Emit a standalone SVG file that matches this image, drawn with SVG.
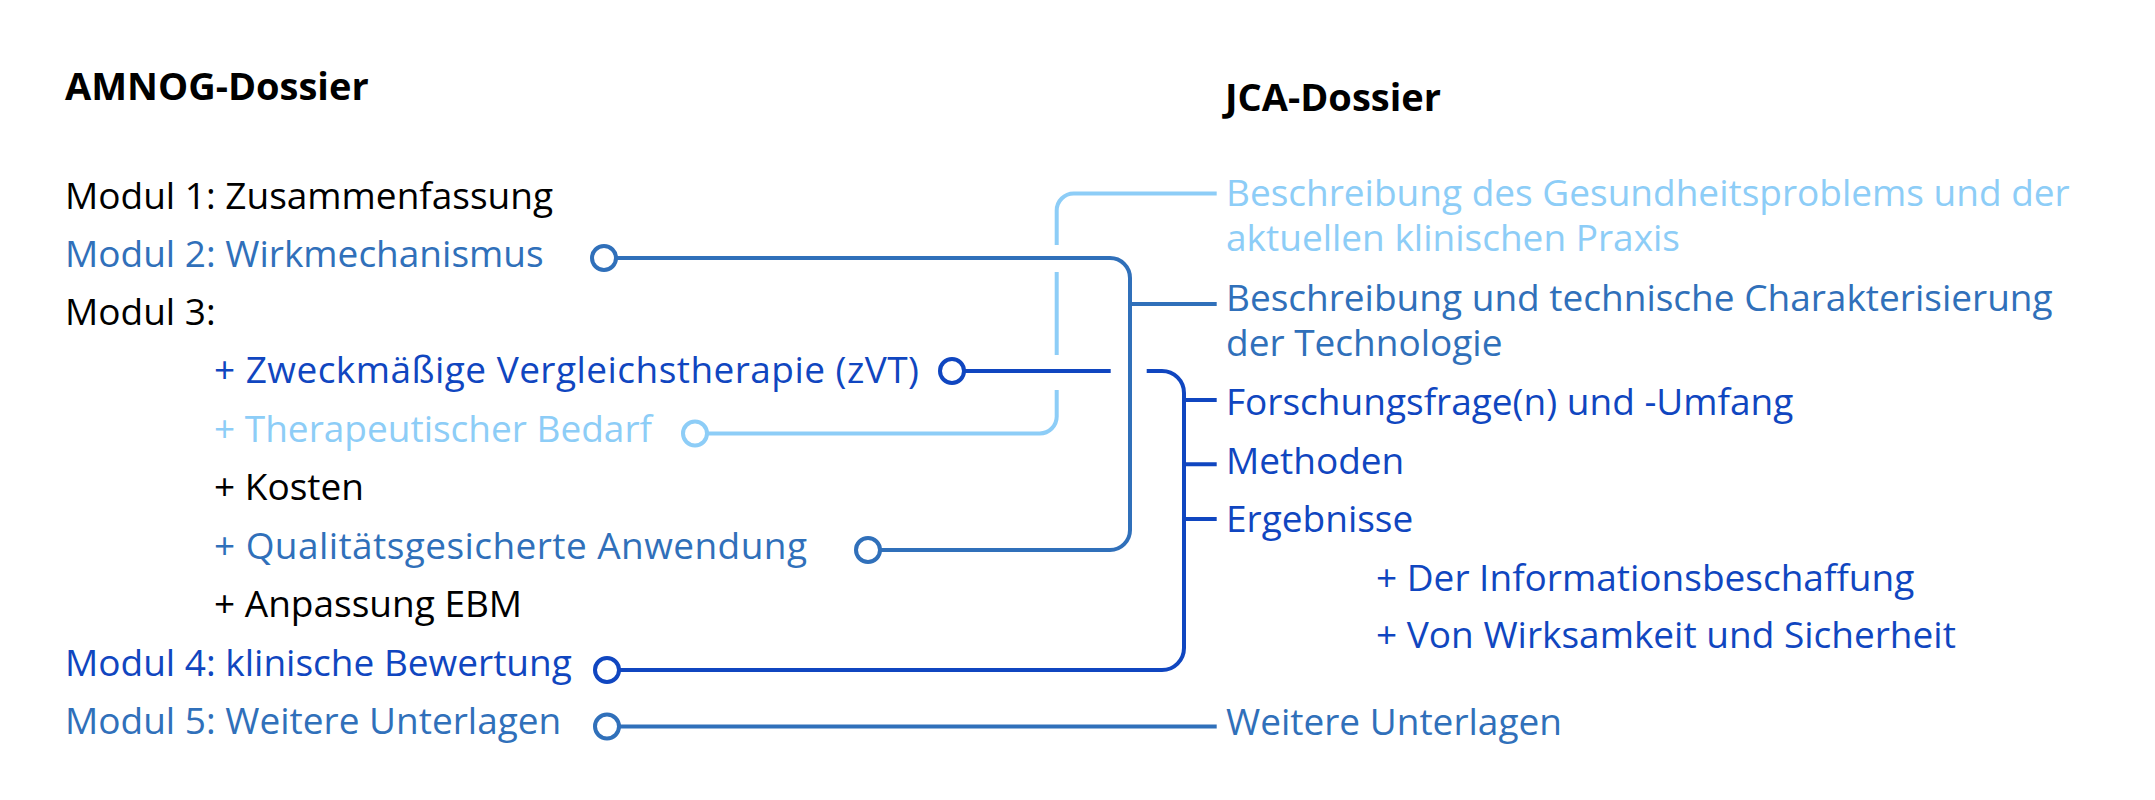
<svg xmlns="http://www.w3.org/2000/svg" width="2155" height="800" viewBox="0 0 2155 800">
  <style>
    text { font-family: "Open Sans", "Noto Sans", "Liberation Sans", sans-serif; font-size: 37px; }
    .h { font-weight: bold; font-size: 38px; fill: #000; }
    .k { fill: #000; }
    .m { fill: #3070BA; }
    .d { fill: #1046C0; }
    .l { fill: #8DCDF7; }
    .ln { fill: none; stroke-width: 4; }
    .sm { stroke: #3070BA; }
    .sd { stroke: #1046C0; }
    .sl { stroke: #8DCDF7; }
    .dot { fill: #fff; stroke-width: 4; }
  </style>
  <rect width="2155" height="800" fill="#fff"/>

  <g id="connectors">
    <!-- light blue: Therapeutischer Bedarf -> Beschreibung des Gesundheitsproblems -->
    <path class="ln sl" d="M 707 433.5 H 1039.7 A 17 17 0 0 0 1056.7 416.5 V 390"/>
    <path class="ln sl" d="M 1056.7 355 V 272"/>
    <path class="ln sl" d="M 1056.7 245 V 210.5 A 17 17 0 0 1 1073.7 193.5 H 1216.7"/>
    <circle class="dot sl" cx="695" cy="433.5" r="12"/>
    <!-- medium blue bracket: Modul 2 + Qualitaet -> Beschreibung Technologie -->
    <path class="ln sm" d="M 616 258 H 1110 A 20 20 0 0 1 1130 278 V 530 A 20 20 0 0 1 1110 550 H 880"/>
    <path class="ln sm" d="M 1130 304 H 1216.7"/>
    <circle class="dot sm" cx="604" cy="258" r="12"/>
    <circle class="dot sm" cx="868" cy="550" r="12"/>
    <!-- dark blue: zVT + Modul 4 -> Forschungsfrage, Methoden, Ergebnisse -->
    <path class="ln sd" d="M 964 371 H 1110.7"/>
    <path class="ln sd" d="M 1146.7 371 H 1162 A 22 22 0 0 1 1184 393 V 648 A 22 22 0 0 1 1162 670 H 619"/>
    <path class="ln sd" d="M 1184 400 H 1216.7 M 1184 464.3 H 1216.7 M 1184 519 H 1216.7"/>
    <circle class="dot sd" cx="952" cy="371" r="12"/>
    <circle class="dot sd" cx="607" cy="670" r="12"/>
    <!-- Modul 5 -> Weitere Unterlagen -->
    <path class="ln sm" d="M 619 726.5 H 1216.7"/>
    <circle class="dot sm" cx="607" cy="726.5" r="12"/>
  </g>

  <g id="amnog-title"><text class="h" x="65" y="100">AMNOG-Dossier</text></g>
  <g id="jca-title"><text class="h" x="1225" y="111">JCA-Dossier</text></g>

  <g id="modul1"><text class="k" x="65" y="209">Modul 1: Zusammenfassung</text></g>
  <g id="modul2"><text class="m" x="65" y="267">Modul 2: Wirkmechanismus</text></g>
  <g id="modul3"><text class="k" x="65" y="325">Modul 3:</text></g>
  <g id="zvt"><text class="d" x="214" y="383" textLength="705">+ Zweckmäßige Vergleichstherapie (zVT)</text></g>
  <g id="bedarf"><text class="l" x="214" y="442" textLength="438">+ Therapeutischer Bedarf</text></g>
  <g id="kosten"><text class="k" x="214" y="500">+ Kosten</text></g>
  <g id="qualitaet"><text class="m" x="214" y="559" textLength="593">+ Qualitätsgesicherte Anwendung</text></g>
  <g id="ebm"><text class="k" x="214" y="617">+ Anpassung EBM</text></g>
  <g id="modul4"><text class="d" x="65" y="676">Modul 4: klinische Bewertung</text></g>
  <g id="modul5"><text class="m" x="65" y="734">Modul 5: Weitere Unterlagen</text></g>

  <g id="jca-gesundheitsproblem">
    <text class="l" x="1226" y="206">Beschreibung des Gesundheitsproblems und der<tspan x="1226" dy="45">aktuellen klinischen Praxis</tspan></text>
  </g>
  <g id="jca-technologie">
    <text class="m" x="1226" y="311">Beschreibung und technische Charakterisierung<tspan x="1226" dy="45">der Technologie</tspan></text>
  </g>
  <g id="jca-forschungsfrage"><text class="d" x="1226" y="415">Forschungsfrage(n) und -Umfang</text></g>
  <g id="jca-methoden"><text class="d" x="1226" y="474">Methoden</text></g>
  <g id="jca-ergebnisse">
    <text class="d" x="1226" y="532">Ergebnisse</text>
    <text class="d" x="1376" y="591">+ Der Informationsbeschaffung</text>
    <text class="d" x="1376" y="648">+ Von Wirksamkeit und Sicherheit</text>
  </g>
  <g id="jca-weitere"><text class="m" x="1226" y="735">Weitere Unterlagen</text></g>
</svg>
